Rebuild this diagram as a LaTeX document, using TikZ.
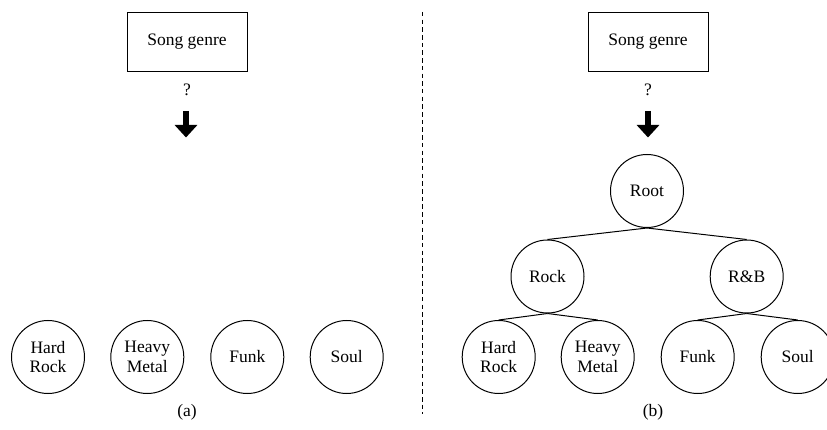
\documentclass[tikz,border=0pt]{standalone}
\usepackage{fontspec}
\setmainfont{Liberation Serif}
\usetikzlibrary{arrows.meta}
\begin{document}
\begin{tikzpicture}[x=1pt,y=-1pt,
  every node/.style={font=\fontsize{17.5}{19.5}\selectfont},
  genre/.style={draw,line width=1pt,circle,minimum size=73pt,inner sep=0pt,align=center},
  query/.style={draw,line width=1pt,rectangle,minimum width=120pt,minimum height=59.5pt,inner sep=0pt},
  fat/.style={line width=6pt,-{Triangle[width=22pt,length=12.5pt]}},
  branch/.style={line width=1pt},
  sep/.style={line width=1pt,dash pattern=on 4.5pt off 3.2pt}]
\useasboundingbox (0,0) rectangle (827,430);
\clip (0,0) rectangle (827,430);
% left panel
\node[query] (qa) at (187,42) {Song genre};
\node (qma) at (187,90) {?};
\coordinate (a1) at (186,111);
\coordinate (a2) at (186,137.5);
\draw[fat] (a1) -- (a2);
\node[genre] (hra) at (48,357) {Hard\\Rock};
\node[genre] (hma) at (147.3,357) {Heavy\\Metal};
\node[genre] (fa) at (247.3,357) {Funk};
\node[genre] (sa) at (346.7,357) {Soul};
\node (la) at (187,412) {(a)};
% separator
\coordinate (s1) at (422,12);
\coordinate (s2) at (422,414);
\draw[sep] (s1) -- (s2);
% right panel
\node[query] (qb) at (648,42) {Song genre};
\node (qmb) at (648,90) {?};
\coordinate (b1) at (648,111);
\coordinate (b2) at (648,137.5);
\draw[fat] (b1) -- (b2);
\node[genre] (root) at (647,191) {Root};
\node[genre] (rock) at (547.5,276.5) {Rock};
\node[genre] (rnb) at (746.7,276.5) {R\&B};
\node[genre] (hrb) at (498.7,357) {Hard\\Rock};
\node[genre] (hmb) at (597.7,357) {Heavy\\Metal};
\node[genre] (fb) at (697.7,357) {Funk};
\node[genre] (sb) at (797.7,357) {Soul};
\draw[branch] (root.south) -- (rock.north);
\draw[branch] (root.south) -- (rnb.north);
\draw[branch] (rock.south) -- (hrb.north);
\draw[branch] (rock.south) -- (hmb.north);
\draw[branch] (rnb.south) -- (fb.north);
\draw[branch] (rnb.south) -- (sb.north);
\node (lb) at (653,412) {(b)};
\end{tikzpicture}
\end{document}
